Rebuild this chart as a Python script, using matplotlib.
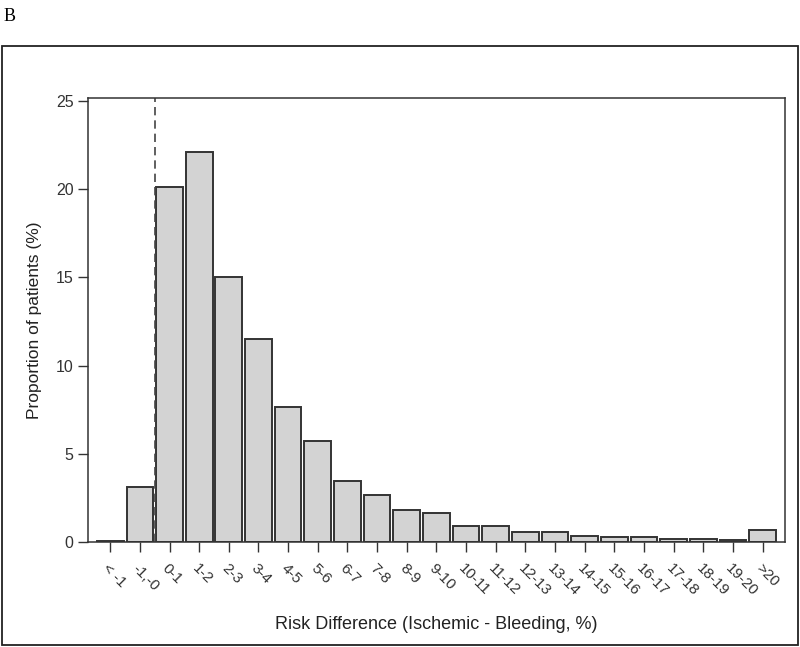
import matplotlib.pyplot as plt
from matplotlib.patches import Rectangle

# data
categories = ["< -1", "-1,-0", "0-1", "1-2", "2-3", "3-4", "4-5", "5-6", "6-7",
              "7-8", "8-9", "9-10", "10-11", "11-12", "12-13", "13-14", "14-15",
              "15-16", "16-17", "17-18", "18-19", "19-20", ">20"]
proportions = [0.05, 3.1, 20.1, 22.1, 15.0, 11.5, 7.65, 5.75, 3.45,
               2.65, 1.85, 1.65, 0.9, 0.92, 0.6, 0.55, 0.35,
               0.3, 0.28, 0.18, 0.18, 0.15, 0.68]
y_ticks = [0, 5, 10, 15, 20, 25]

plt.rcParams["font.family"] = ["Liberation Sans", "DejaVu Sans"]

fig = plt.figure(figsize=(8, 6.47), dpi=100)
ax = fig.add_axes([0.11, 0.162, 0.871, 0.6865])

x = list(range(len(categories)))
ax.bar(x, proportions, width=0.9, color="#d3d3d3", edgecolor="#333333", linewidth=1.4)
ax.axvline(1.5, color="#444444", linestyle=(0, (5, 3)), linewidth=1.2)

ax.set_xlim(-0.75, len(categories) - 0.25)
ax.set_ylim(0, 25.15)
ax.set_yticks(y_ticks)
ax.set_xticks(x)
ax.set_xticklabels(categories, rotation=-45, ha="left", va="top",
                   rotation_mode="anchor", fontsize=11, color="#333333")
ax.tick_params(axis="x", length=7, width=1, colors="#333333", pad=7)
ax.tick_params(axis="y", length=7, width=1, colors="#333333", labelsize=11.5)
for s in ax.spines.values():
    s.set_color("#333333")
    s.set_linewidth(1.1)

ax.set_xlabel("Risk Difference (Ischemic - Bleeding, %)", fontsize=13,
              color="#222222", labelpad=12)
ax.set_ylabel("Proportion of patients (%)", fontsize=12.5, color="#222222",
              labelpad=10)

# outer panel frame and panel letter
fig.patches.append(Rectangle((0.003, 0.003), 0.994, 0.926, transform=fig.transFigure,
                             fill=False, edgecolor="#222222", linewidth=1.3))
fig.text(0.004, 0.988, "B", fontsize=13, family="Liberation Serif", va="top", ha="left")

fig.savefig("out.png", dpi=100)
